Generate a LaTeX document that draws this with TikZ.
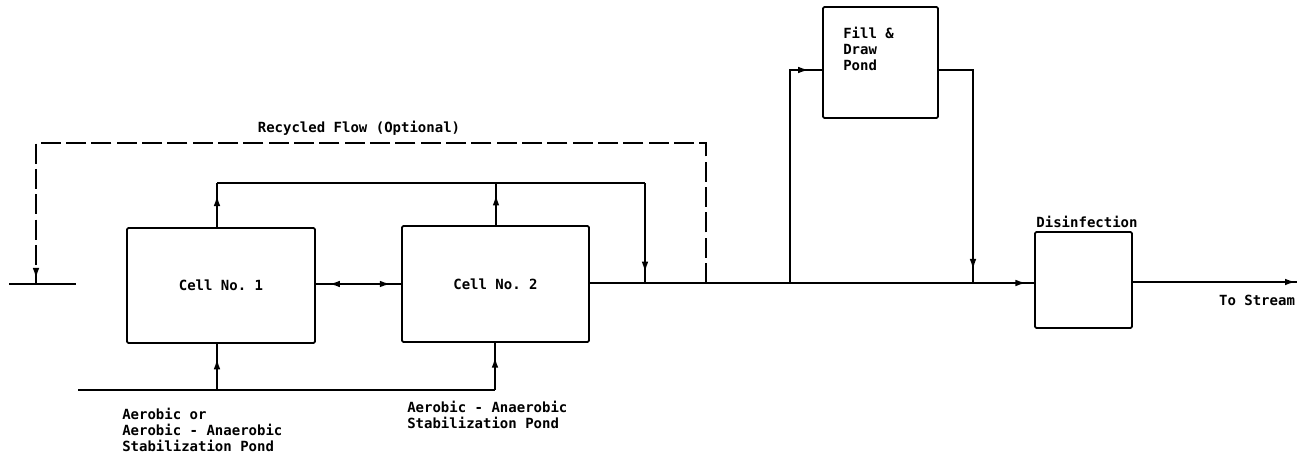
\documentclass[tikz,border=0pt]{standalone}
\usepackage{fontspec}
\setmonofont{DejaVu Sans Mono}
\usetikzlibrary{arrows.meta,decorations.markings}
\begin{document}
\begin{tikzpicture}[x=0.75pt,y=-0.75pt,
  ln/.style={line width=1.3pt},
  rec/.style={dash pattern=on 15pt off 4pt},
  box/.style={draw,line width=1.3pt,rounded corners=1pt,inner sep=0pt,font=\ttfamily\bfseries\fontsize{10.5}{12}\selectfont},
  lbl/.style={inner sep=0pt,font=\ttfamily\bfseries\fontsize{10.5}{12}\selectfont},
  tipat/.style={postaction={solid,decorate,decoration={markings,mark=at position #1 with {\arrow{Latex[length=8pt,width=5pt]}}}}},
  tipback/.style={postaction={solid,decorate,decoration={markings,mark=at position #1 with {\arrowreversed{Latex[length=8pt,width=5pt]}}}}}
]
\useasboundingbox (0,0) rectangle (1304,459);

% boxes
\node[box,minimum width=141pt,minimum height=86.25pt] (c1) at (221,285.5) {Cell No. 1};
\node[box,minimum width=140.25pt,minimum height=87pt] (c2) at (495.5,284) {Cell No. 2};
\node[box,minimum width=86.25pt,minimum height=83.25pt] (fd) at (880.5,62.5) {};
\node[lbl,anchor=north west,align=left] (fdt) at (843,27) {Fill \&\\Draw\\Pond};
\node[box,minimum width=72.75pt,minimum height=72pt] (dis) at (1083.5,280) {};

% labels
\node[lbl] (rtxt) at (359,128) {Recycled Flow (Optional)};
\node[lbl] (dtxt) at (1087,222) {Disinfection};
\node[lbl] (stxt) at (1257,300) {To Stream};
\node[lbl,anchor=north west,align=left] (l1) at (122,408) {Aerobic or\\Aerobic - Anaerobic\\Stabilization Pond};
\node[lbl,anchor=north west,align=left] (l2) at (407,401) {Aerobic - Anaerobic\\Stabilization Pond};

% coordinates
\coordinate (inL) at (9,284);
\coordinate (inR) at (76,284);
\coordinate (rl) at (36,284);
\coordinate (rlt) at (36,143);
\coordinate (rrt) at (706,143);
\coordinate (rj) at (706,283);
\coordinate (tl) at (217,183);
\coordinate (tm) at (496,183);
\coordinate (tr) at (645,183);
\coordinate (jr) at (645,283);
\coordinate (bl) at (78,390);
\coordinate (b1) at (217,390);
\coordinate (b2) at (495,390);
\coordinate (fl) at (790,283);
\coordinate (flt) at (790,70);
\coordinate (frt) at (973,70);
\coordinate (fr) at (973,283);
\coordinate (out) at (1297,282);

% inlet stub and recycle
\draw[ln] (inL) -- (inR);
\draw[ln,rec,tipat=-4pt] (rj) -- (rrt) -- (rlt) -- (rl);

% top collector
\draw[ln,tipat=0.72] (c1.north -| tl) -- (tl);
\draw[ln,tipat=0.72] (c2.north -| tm) -- (tm);
\draw[ln] (tl) -- (tr);
\draw[ln,tipat=-8pt] (tr) -- (jr);

% bottom feed
\draw[ln] (bl) -- (b2);
\draw[ln,tipat=0.68] (b1) -- (c1.south -| b1);
\draw[ln,tipat=0.7] (b2) -- (c2.south -| b2);

% between cells
\draw[ln,tipback=10pt,tipat=-8pt] (c1.east |- 0,284) -- (c2.west |- 0,284);

% main line
\draw[ln,tipat=-6pt] (c2.east |- 0,283) -- (dis.west |- 0,283);

% fill and draw branch
\draw[ln,tipat=-10pt] (fl) -- (flt) -- (fd.west |- flt);
\draw[ln,tipat=-10pt] (fd.east |- frt) -- (frt) -- (fr);

% outlet
\draw[ln,tipat=-1pt] (dis.east |- out) -- (out);
\end{tikzpicture}
\end{document}
